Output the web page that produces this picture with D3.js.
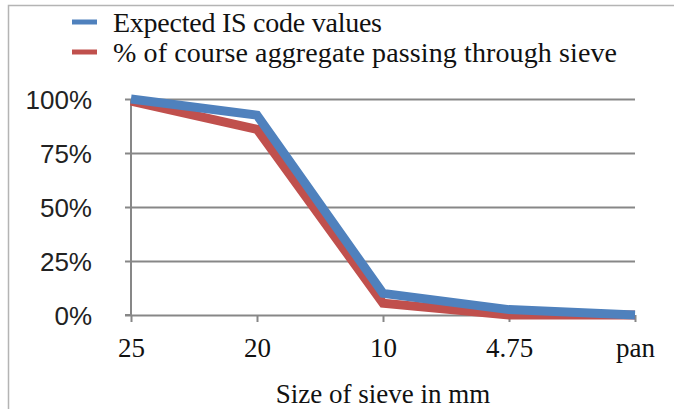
<!DOCTYPE html>
<html>
<head>
<meta charset="utf-8">
<script src="https://cdn.jsdelivr.net/npm/d3@7"></script>
<style>
    body { margin: 0; background: #fff; }
</style>
</head>
<body>
<div id="chart"></div>
<script>
const sieveSizes = ["25", "20", "10", "4.75", "pan"];
const expectedValues = [100, 92.5, 10, 2.5, 0];
const passingValues = [99, 86, 5.5, 0, 0];
const yTicks = [0, 25, 50, 75, 100];
const seriesNames = ["Expected IS code values", "% of course aggregate passing through sieve"];
const seriesColors = ["#4F81BD", "#C0504D"];

const width = 674;
const height = 409;
const margin = { top: 99, right: 39, bottom: 94, left: 131 };
const serif = "'Liberation Serif', 'Times New Roman', serif";
const sans = "'Liberation Sans', Arial, sans-serif";
const gridColor = "#878787";

const svg = d3.select("#chart").append("svg").attr("width", width).attr("height", height);

// outer frame (only left and top edges are visible in the crop)
svg.append("path")
    .attr("d", `M8.5,${height} V5.5 H${width}`)
    .attr("fill", "none")
    .attr("stroke", "#b4b4b4")
    .attr("stroke-width", 1.5);

const x = d3.scalePoint().domain(sieveSizes).range([margin.left, width - margin.right]);
const y = d3.scaleLinear().domain([0, 100]).range([height - margin.bottom, margin.top]);

// gridlines + y axis
const yAxis = svg.append("g")
    .attr("transform", `translate(${margin.left},0)`)
    .call(d3.axisLeft(y).tickValues(yTicks).tickSize(6).tickFormat(d => d + "%"));
yAxis.select(".domain").attr("stroke", gridColor).attr("stroke-width", 2).attr("d", `M-6,${y(0)}H0V${y(100)}`);
yAxis.selectAll(".tick line").attr("stroke", gridColor).attr("stroke-width", 2).attr("x1", -6).attr("x2", width - margin.right - margin.left);
yAxis.selectAll(".tick text")
    .attr("x", -39)
    .attr("dy", "0.35em")
    .attr("fill", "#222")
    .style("font-family", sans)
    .style("font-size", "26px");

// x axis
const xAxis = svg.append("g")
    .attr("transform", `translate(0,${y(0)})`)
    .call(d3.axisBottom(x).tickSize(7).tickPadding(16));
xAxis.select(".domain").remove();
xAxis.selectAll(".tick line").attr("stroke", gridColor).attr("stroke-width", 2);
xAxis.selectAll(".tick text")
    .attr("fill", "#111")
    .style("font-family", serif)
    .style("font-size", "27px");

svg.append("text")
    .attr("x", (margin.left + width - margin.right) / 2)
    .attr("y", 403)
    .attr("text-anchor", "middle")
    .attr("fill", "#111")
    .style("font-family", serif)
    .style("font-size", "27px")
    .text("Size of sieve in mm");

const line = d3.line()
    .x((d, i) => x(sieveSizes[i]))
    .y(d => y(d));

// red first so the blue series sits on top
[[passingValues, seriesColors[1]], [expectedValues, seriesColors[0]]].forEach(([values, color]) => {
    svg.append("path")
        .datum(values)
        .attr("d", line)
        .attr("fill", "none")
        .attr("stroke", color)
        .attr("stroke-width", 9);
});

// legend - widths stretched to the original's wider serif face
const legendWidths = [269, 504];
const legend = svg.append("g");
seriesNames.forEach((name, i) => {
    const ly = 22 + i * 30;
    legend.append("line")
        .attr("x1", 72)
        .attr("x2", 97)
        .attr("y1", ly)
        .attr("y2", ly)
        .attr("stroke", seriesColors[i])
        .attr("stroke-width", 5);
    legend.append("text")
        .attr("x", 113)
        .attr("y", ly + 10)
        .attr("fill", "#111")
        .attr("textLength", legendWidths[i])
        .attr("lengthAdjust", "spacing")
        .style("font-family", serif)
        .style("font-size", "28px")
        .text(name);
});
</script>
</body>
</html>
